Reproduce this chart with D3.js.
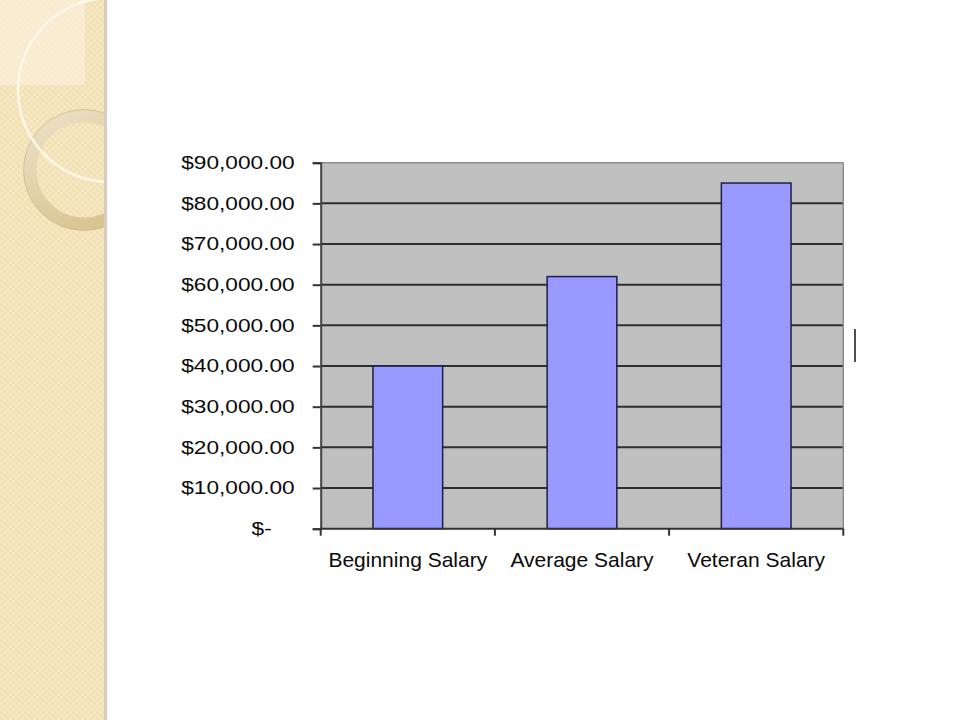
<!DOCTYPE html>
<html>
<head>
<meta charset="utf-8">
<script src="https://cdn.jsdelivr.net/npm/d3@7"></script>
<style>
  body { margin: 0; background: #fff; }
  svg { display: block; }
  text { font-family: "Liberation Sans", Arial, sans-serif; fill: #0a0a0a; }
</style>
</head>
<body>
<svg width="960" height="720"></svg>
<script>
const categories = ["Beginning Salary", "Average Salary", "Veteran Salary"];
const salaries = [40000, 62000, 85000];
const yTicks = [0, 10000, 20000, 30000, 40000, 50000, 60000, 70000, 80000, 90000];

const svg = d3.select("svg");
const defs = svg.append("defs");

// beige checker texture for the side panel
const pat = defs.append("pattern")
  .attr("id", "tex").attr("width", 6).attr("height", 6)
  .attr("patternUnits", "userSpaceOnUse");
pat.append("rect").attr("width", 6).attr("height", 6).attr("fill", "#f1e0b3");
pat.append("rect").attr("width", 3).attr("height", 3).attr("fill", "#f6e8c2");
pat.append("rect").attr("x", 3).attr("y", 3).attr("width", 3).attr("height", 3).attr("fill", "#f6e8c2");

defs.append("clipPath").attr("id", "panelClip")
  .append("rect").attr("width", 104).attr("height", 720);

const ringGrad = defs.append("linearGradient").attr("id", "ringGrad")
  .attr("x1", 0).attr("y1", 0).attr("x2", 0.6).attr("y2", 1);
ringGrad.append("stop").attr("offset", "0%").attr("stop-color", "#ece1c6");
ringGrad.append("stop").attr("offset", "100%").attr("stop-color", "#d9c592");

// side panel
const panel = svg.append("g").attr("clip-path", "url(#panelClip)");
panel.append("rect").attr("width", 104).attr("height", 720).attr("fill", "url(#tex)");
panel.append("rect").attr("width", 85).attr("height", 85).attr("fill", "#f9f0da").attr("opacity", 0.75);
panel.append("circle").attr("cx", 84).attr("cy", 170).attr("r", 54)
  .attr("fill", "none").attr("stroke", "url(#ringGrad)").attr("stroke-width", 13);
panel.append("circle").attr("cx", 84).attr("cy", 170).attr("r", 60.5)
  .attr("fill", "none").attr("stroke", "#cdbb8c").attr("stroke-width", 0.8);
panel.append("circle").attr("cx", 110).attr("cy", 90).attr("r", 92)
  .attr("fill", "none").attr("stroke", "#fdf8ea").attr("stroke-width", 2.5);
svg.append("rect").attr("x", 104).attr("y", 0).attr("width", 3).attr("height", 720).attr("fill", "#d6cfbf");

// chart
const margin = {top: 162.7, left: 320.7, right: 843.3, bottom: 528.7};

const x = d3.scaleBand()
  .domain(categories)
  .range([margin.left, margin.right])
  .paddingInner(0.6)
  .paddingOuter(0.3);

const y = d3.scaleLinear()
  .domain([0, 90000])
  .range([margin.bottom, margin.top]);

const g = svg.append("g");

g.append("rect")
  .attr("x", margin.left).attr("y", margin.top)
  .attr("width", margin.right - margin.left)
  .attr("height", margin.bottom - margin.top)
  .attr("fill", "#c0c0c0");

// gridlines
g.selectAll("line.grid")
  .data(yTicks.filter(d => d > 0 && d < 90000))
  .enter().append("line")
    .attr("class", "grid")
    .attr("x1", margin.left).attr("x2", margin.right)
    .attr("y1", d => y(d)).attr("y2", d => y(d))
    .attr("stroke", "#2e2e2e").attr("stroke-width", 2);

// plot border (top/right lighter)
g.append("line").attr("x1", margin.left).attr("x2", margin.right)
  .attr("y1", margin.top).attr("y2", margin.top)
  .attr("stroke", "#8c8c8c").attr("stroke-width", 1.5);
g.append("line").attr("x1", margin.right).attr("x2", margin.right)
  .attr("y1", margin.top).attr("y2", margin.bottom)
  .attr("stroke", "#8c8c8c").attr("stroke-width", 1.5);

// bars
g.selectAll("rect.bar")
  .data(categories)
  .enter().append("rect")
    .attr("class", "bar")
    .attr("x", d => x(d))
    .attr("y", (d, i) => y(salaries[i]))
    .attr("width", x.bandwidth())
    .attr("height", (d, i) => y(0) - y(salaries[i]))
    .attr("fill", "#9999ff")
    .attr("stroke", "#1e1e4a")
    .attr("stroke-width", 1.5);

// y axis (labels are drawn wide, like the stretched original)
const yAxis = g.append("g")
  .attr("transform", `translate(${margin.left},0)`)
  .call(d3.axisLeft(y)
    .tickValues(yTicks)
    .tickSize(8)
    .tickFormat(d => d === 0 ? "$-" : d3.format("$,.2f")(d)));
yAxis.select(".domain").attr("stroke", "#444").attr("stroke-width", 2);
yAxis.selectAll(".tick line").attr("stroke", "#333").attr("stroke-width", 2);
yAxis.selectAll(".tick text")
  .style("font-size", "18px")
  .attr("fill", "#0a0a0a")
  .attr("x", 0)
  .attr("transform", d => `translate(${d === 0 ? -49 : -26},0) scale(1.26,1)`);

// x axis
const xEdges = d3.scaleLinear().domain([0, categories.length]).range([margin.left, margin.right]);
g.append("line")
  .attr("x1", margin.left).attr("x2", margin.right)
  .attr("y1", margin.bottom).attr("y2", margin.bottom)
  .attr("stroke", "#333").attr("stroke-width", 2);
g.selectAll("line.xtick")
  .data(d3.range(categories.length + 1))
  .enter().append("line")
    .attr("class", "xtick")
    .attr("x1", d => xEdges(d)).attr("x2", d => xEdges(d))
    .attr("y1", margin.bottom).attr("y2", margin.bottom + 7)
    .attr("stroke", "#333").attr("stroke-width", 2);
g.selectAll("text.xlabel")
  .data(categories)
  .enter().append("text")
    .attr("class", "xlabel")
    .attr("x", d => x(d) + x.bandwidth() / 2)
    .attr("y", 567)
    .attr("text-anchor", "middle")
    .style("font-size", "21px")
    .text(d => d);

// stray cursor mark at the right
svg.append("line")
  .attr("x1", 855).attr("x2", 855).attr("y1", 329).attr("y2", 362)
  .attr("stroke", "#222").attr("stroke-width", 1.6);
</script>
</body>
</html>
